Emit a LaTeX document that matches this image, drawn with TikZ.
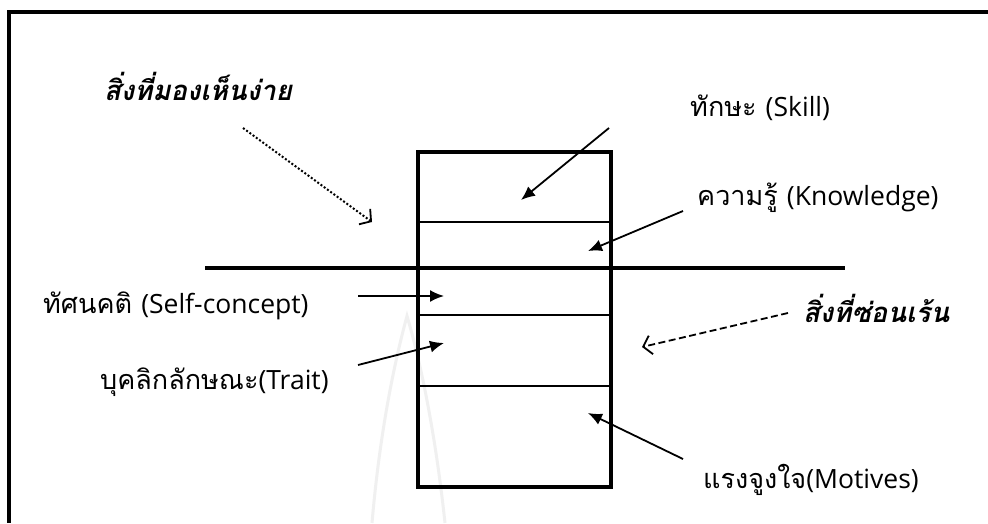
\documentclass[tikz,border=0pt]{standalone}
\usepackage{fontspec}
\newfontfamily\thaifont[Script=Thai]{Loma}
\newfontfamily\latinfont{Open Sans}
\usetikzlibrary{arrows.meta}
\newcommand{\thtxt}[1]{{\thaifont\fontsize{27}{32}\selectfont #1}}
\newcommand{\latxt}[1]{{\latinfont\fontsize{26.5}{31}\selectfont #1}}
\tikzset{
  lbl/.style={inner sep=0pt, anchor=base west},
  hdr/.style={font=\thaifont\fontsize{27.5}{32}\selectfont\bfseries\itshape, inner sep=0pt, anchor=base west},
  pointer/.style={line width=1.8pt, -{Latex[length=14pt,width=12pt]}},
  hint/.style={-{Straight Barb[length=8pt,width=19pt,line width=1.8pt]}},
  heavy/.style={line width=3.2pt},
  thin/.style={line width=1.6pt},
}
\begin{document}
\begin{tikzpicture}[x=1pt,y=-1pt]
\useasboundingbox (0,0) rectangle (988,523);
\fill[white] (0,0) rectangle (988,523);

% faint background emblem
\draw[black!6, line width=3pt] (372,523) .. controls (380,430) and (395,360) .. (407,316)
      .. controls (420,360) and (435,430) .. (445,523);

% frame
\draw[heavy] (988,12) -- (9,12) -- (9,523);

% layered box
\draw[heavy] (418,152) rectangle (611,487);
\draw[thin] (418,222) -- (611,222);
\draw[thin] (418,315) -- (611,315);
\draw[thin] (418,386) -- (611,386);
\draw[heavy] (205,268) -- (845,268);

% anchor points inside the layers
\coordinate (skillpt) at (521,200);
\coordinate (knowpt) at (588,251);
\coordinate (selfpt) at (444,296);
\coordinate (traitpt) at (444,343);
\coordinate (motpt) at (588,413);
\coordinate (seenpt) at (372,222);
\coordinate (hidpt) at (642,347);

% headings
\node[hdr] (seen) at (104,100) {สิ่งที่มองเห็นง่าย};
\node[hdr] (hidden) at (803,322) {สิ่งที่ซ่อนเร้น};

% labels
\node[lbl] (skill) at (690,116) {\thtxt{ทักษะ }\latxt{(Skill)}};
\node[lbl] (know) at (697,205) {\thtxt{ความรู้ }\latxt{(Knowledge)}};
\node[lbl] (self) at (43,313) {\thtxt{ทัศนคติ }\latxt{(Self-concept)}};
\node[lbl] (trait) at (100,389) {\thtxt{บุคลิกลักษณะ}\latxt{(Trait)}};
\node[lbl] (mot) at (703,488) {\thtxt{แรงจูงใจ}\latxt{(Motives)}};

% connectors
\coordinate (skillfrom) at (609,128);
\coordinate (knowfrom) at (683,211);
\coordinate (selffrom) at (358,296);
\coordinate (traitfrom) at (358,365);
\coordinate (motfrom) at (683,459);
\coordinate (seenfrom) at (243,128);
\coordinate (hidfrom) at (788,313);

\draw[pointer] (skillfrom) -- (skillpt);
\draw[pointer] (knowfrom) -- (knowpt);
\draw[pointer] (selffrom) -- (selfpt);
\draw[pointer] (traitfrom) -- (traitpt);
\draw[pointer] (motfrom) -- (motpt);
\draw[hint, line width=2pt, dash pattern=on 2pt off 2pt] (seenfrom) -- (seenpt);
\draw[hint, line width=1.8pt, dash pattern=on 7pt off 3.5pt] (hidfrom) -- (hidpt);
\end{tikzpicture}
\end{document}
